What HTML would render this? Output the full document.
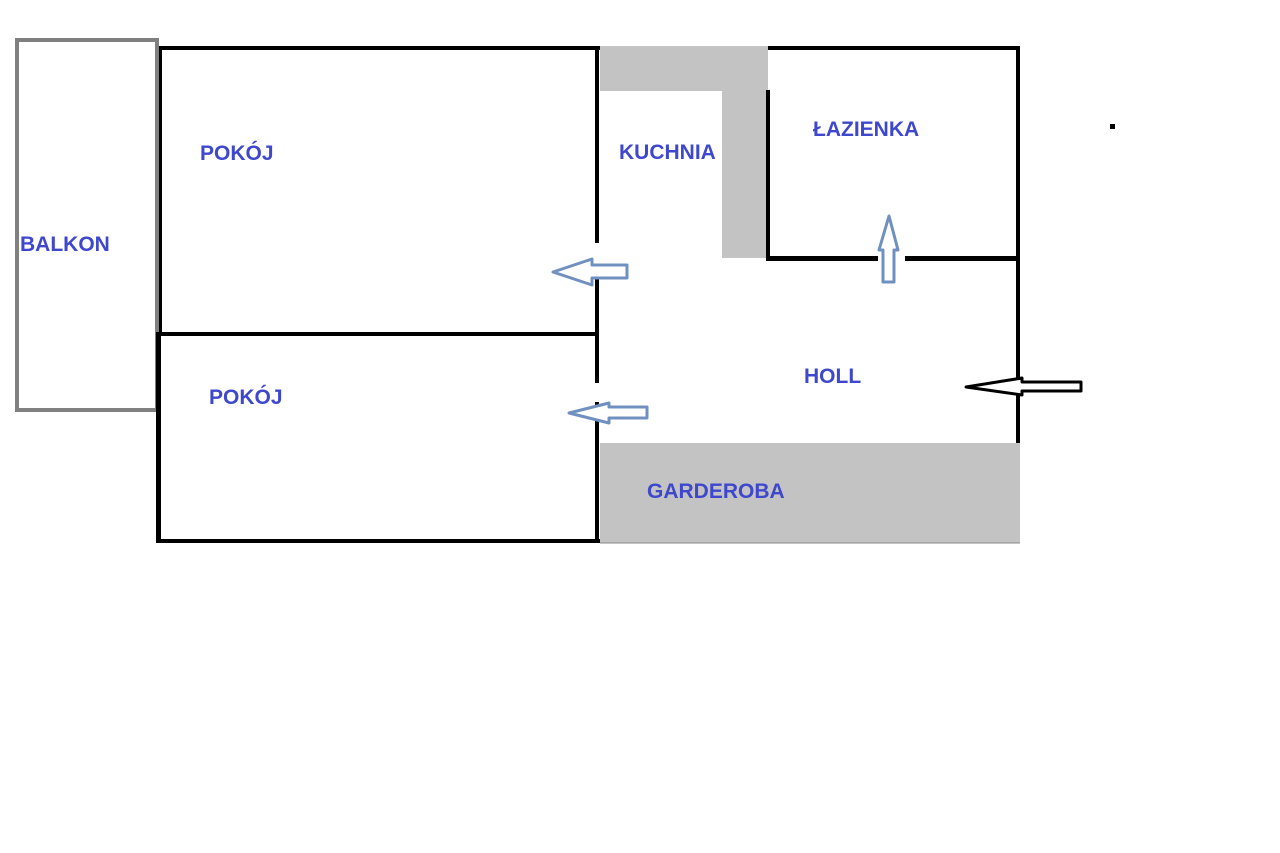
<!DOCTYPE html>
<html><head><meta charset="utf-8"><style>
html,body{margin:0;padding:0;background:#fff;}
svg{display:block;}
text{font-family:"Liberation Sans",sans-serif;font-weight:bold;font-size:21px;fill:#3f48cc;}
</style></head><body>
<svg width="1280" height="853" viewBox="0 0 1280 853" xmlns="http://www.w3.org/2000/svg">
<rect x="0" y="0" width="1280" height="853" fill="#fff"/>
<!-- balkon -->
<rect x="17" y="40" width="140" height="370" fill="none" stroke="#808080" stroke-width="4"/>
<!-- gray areas -->
<rect x="600" y="46" width="168" height="45" fill="#c3c3c3"/>
<rect x="722" y="46" width="46" height="212" fill="#c3c3c3"/>
<rect x="600" y="443" width="420" height="100" fill="#c3c3c3"/>
<line x1="600" y1="543" x2="1020" y2="543" stroke="#888" stroke-width="1"/>
<!-- black walls -->
<g fill="#000">
<rect x="159" y="46" width="441" height="4"/>
<rect x="768" y="46" width="252" height="4"/>
<rect x="159" y="46" width="3" height="290"/>
<rect x="156" y="332" width="5" height="211"/>
<rect x="160" y="332" width="438" height="4"/>
<rect x="156" y="539" width="444" height="4"/>
<rect x="595" y="46" width="4" height="197"/>
<rect x="595" y="270" width="4" height="113"/>
<rect x="595" y="402" width="4" height="141"/>
<rect x="766" y="90" width="4" height="171"/>
<rect x="766" y="256" width="112" height="5"/>
<rect x="905" y="256" width="115" height="5"/>
<rect x="1016" y="46" width="4" height="397"/>
<rect x="1110" y="124" width="5" height="5"/>
</g>
<!-- blue arrows -->
<g fill="#fff" stroke="#7090c0" stroke-width="3" stroke-linejoin="round">
<polygon points="553,272 592,259 592,265 627,265 627,278 592,278 592,285"/>
<polygon points="569,413 609,403 609,407 647,407 647,418 609,418 609,423"/>
<polygon points="889,216 898,250 894,250 894,282 883,282 883,250 879,250"/>
</g>
<!-- black arrow -->
<polygon points="966,387 1022,378 1022,382 1081,382 1081,391 1022,391 1022,395" fill="#fff" stroke="#000" stroke-width="3" stroke-linejoin="round"/>
<!-- labels -->
<text x="200" y="160">POKÓJ</text>
<text x="20" y="251">BALKON</text>
<text x="619" y="159">KUCHNIA</text>
<text x="813" y="136">ŁAZIENKA</text>
<text x="804" y="383">HOLL</text>
<text x="209" y="404">POKÓJ</text>
<text x="647" y="498">GARDEROBA</text>
</svg>
</body></html>
